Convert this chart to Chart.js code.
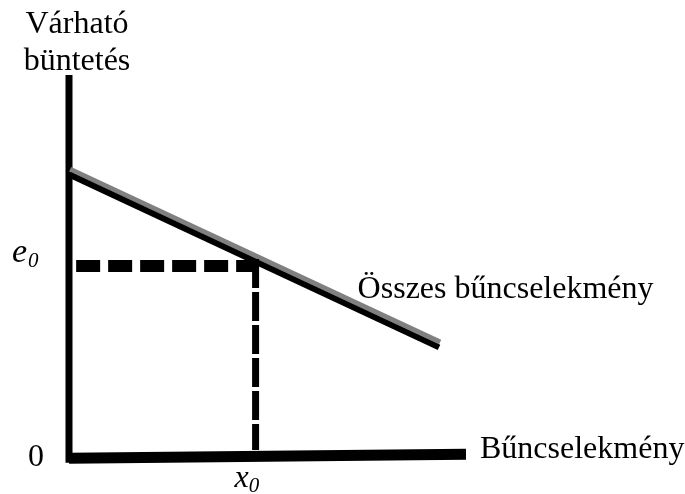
<!DOCTYPE html>
<html>
<head>
<meta charset="utf-8">
<script src="https://cdn.jsdelivr.net/npm/chart.js@4/dist/chart.umd.min.js"></script>
<style>
  body { margin: 0; background: #fff; }
  canvas { display: block; }
</style>
</head>
<body>
<canvas id="chart" width="685" height="494"></canvas>
<script>
// values (x: crimes, y: expected punishment), scale 0..10 on both axes
const x0 = 4.7;
const e0 = 5.0;
const xAxisLine = [[0, -0.03], [10, 0.07]];
const yAxisLine = [[0, -0.15], [0, 10]];
const allCrimesBlack = [[0.03, 7.38], [9.32, 2.87]];
const allCrimesGray = [[0.03, 7.53], [9.35, 3.01]];
const hDashLine = [[0.18, e0], [4.76, e0]];
const vDashLine = [[x0, 5.18], [x0, 0.18]];

// texts
const yTitle = ['Várható', 'büntetés'];
const xTitle = 'Bűncselekmény';
const lineLabel = 'Összes bűncselekmény';
const originLabel = '0';
const eLabel = ['e', '0'];
const xLabel = ['x', '0'];

const toPoints = arr => arr.map(p => ({ x: p[0], y: p[1] }));

const SERIF = '"Liberation Serif", "Times New Roman", serif';

const textPlugin = {
  id: 'texts',
  afterDatasetsDraw(chart) {
    const ctx = chart.ctx;
    const xs = chart.scales.x;
    const ys = chart.scales.y;
    const ox = xs.getPixelForValue(0);
    const oy = ys.getPixelForValue(0);
    ctx.save();
    ctx.fillStyle = '#000';
    ctx.textBaseline = 'alphabetic';

    // y axis title, two lines above the axis
    ctx.font = '32px ' + SERIF;
    ctx.textAlign = 'center';
    ctx.fillText(yTitle[0], ox + 8, chart.chartArea.top - 42);
    ctx.fillText(yTitle[1], ox + 8, chart.chartArea.top - 5);

    // origin
    ctx.fillText(originLabel, ox - 33, oy + 9);

    // x axis title
    ctx.textAlign = 'left';
    ctx.fillText(xTitle, xs.right + 14, oy + 1);

    // line label
    ctx.fillText(lineLabel, xs.getPixelForValue(7.27), ys.getPixelForValue(4.16));

    // e0
    const ey = ys.getPixelForValue(e0);
    ctx.font = 'italic 34px ' + SERIF;
    ctx.fillText(eLabel[0], ox - 57, ey - 4);
    let w = ctx.measureText(eLabel[0]).width;
    ctx.font = 'italic 21px ' + SERIF;
    ctx.fillText(eLabel[1], ox - 57 + w + 1, ey + 1);

    // x0
    const xx = xs.getPixelForValue(x0);
    ctx.font = 'italic 32px ' + SERIF;
    ctx.fillText(xLabel[0], xx - 21, oy + 30);
    w = ctx.measureText(xLabel[0]).width;
    ctx.font = 'italic 21px ' + SERIF;
    ctx.fillText(xLabel[1], xx - 21 + w, oy + 35);

    ctx.restore();
  }
};

const line = (data, color, width, dash) => ({
  data: toPoints(data),
  showLine: true,
  borderColor: color,
  borderWidth: width,
  borderDash: dash || [],
  borderCapStyle: 'butt',
  pointRadius: 0,
  fill: false,
  clip: false
});

new Chart(document.getElementById('chart').getContext('2d'), {
  type: 'scatter',
  data: {
    datasets: [
      line(hDashLine, '#000', 12, [24, 8]),
      line(vDashLine, '#000', 7, [29, 4]),
      line(allCrimesBlack, '#000', 6),
      line(allCrimesGray, '#808080', 5),
      line(yAxisLine, '#000', 7),
      line(xAxisLine, '#000', 11)
    ]
  },
  options: {
    responsive: false,
    animation: false,
    devicePixelRatio: 1,
    layout: { padding: { left: 69, right: 219, top: 75, bottom: 37 } },
    scales: {
      x: { type: 'linear', min: 0, max: 10, display: false },
      y: { type: 'linear', min: 0, max: 10, display: false }
    },
    plugins: {
      legend: { display: false },
      tooltip: { enabled: false }
    }
  },
  plugins: [textPlugin]
});
</script>
</body>
</html>
